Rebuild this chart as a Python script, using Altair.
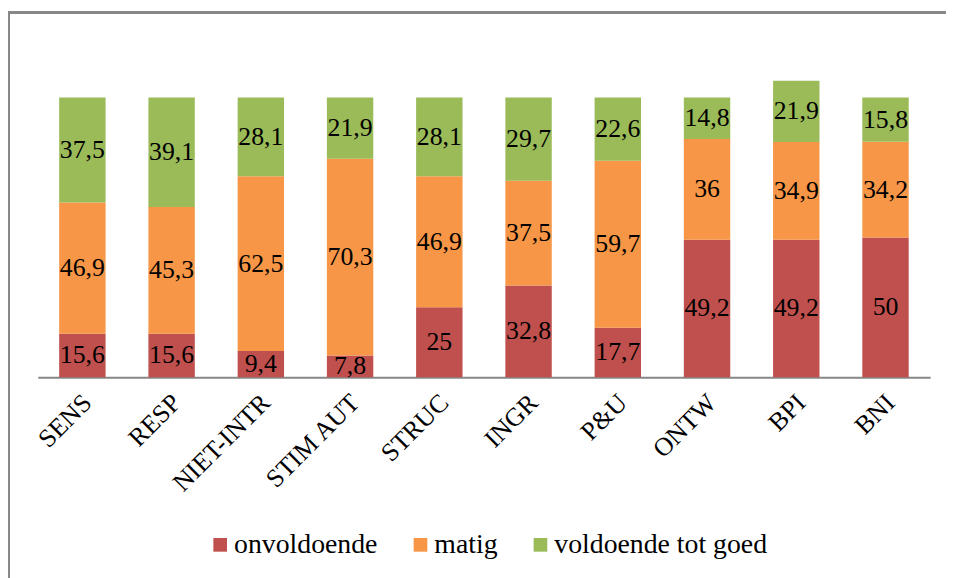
import altair as alt
import pandas as pd

categories = ["SENS", "RESP", "NIET-INTR", "STIM AUT", "STRUC", "INGR", "P&U", "ONTW", "BPI", "BNI"]
series = ["onvoldoende", "matig", "voldoende tot goed"]
onvoldoende = [15.6, 15.6, 9.4, 7.8, 25, 32.8, 17.7, 49.2, 49.2, 50]
matig = [46.9, 45.3, 62.5, 70.3, 46.9, 37.5, 59.7, 36, 34.9, 34.2]
voldoende = [37.5, 39.1, 28.1, 21.9, 28.1, 29.7, 22.6, 14.8, 21.9, 15.8]
colors = ["#C0504D", "#F79646", "#9BBB59"]

rows = []
for si, (name, vals) in enumerate(zip(series, [onvoldoende, matig, voldoende])):
    for c, v in zip(categories, vals):
        lab = ("%g" % v).replace(".", ",")
        rows.append({"cat": c, "serie": name, "idx": si, "value": v, "label": lab})
df = pd.DataFrame(rows)

FONT = "Liberation Serif"

x = alt.X("cat:N", sort=categories, title=None,
          scale=alt.Scale(paddingInner=0.48, paddingOuter=0.24),
          axis=alt.Axis(labelAngle=-45, labelFontSize=26, labelFont=FONT, labelColor="black",
                        ticks=False, domainColor="#878787", domainWidth=2, labelPadding=12,
                        labelOffset=-4))

bars = alt.Chart(df).mark_bar().encode(
    x=x,
    y=alt.Y("value:Q", stack="zero", scale=alt.Scale(domain=[0, 106], nice=False), axis=None),
    color=alt.Color("serie:N", scale=alt.Scale(domain=series, range=colors),
                    legend=alt.Legend(title=None, orient="none", direction="horizontal",
                                      legendX=170, legendY=454, symbolType="square",
                                      symbolSize=190, symbolStrokeWidth=0, labelFontSize=28,
                                      labelFont=FONT, labelColor="black", columnPadding=29,
                                      labelOffset=0, labelLimit=400)),
    order=alt.Order("idx:Q", sort="ascending"),
)

texts = alt.Chart(df).transform_stack(
    stack="value", groupby=["cat"], as_=["v0", "v1"], sort=[alt.SortField("idx", order="ascending")]
).transform_calculate(mid="(datum.v0 + datum.v1) / 2").mark_text(
    fontSize=26, font=FONT, color="black", baseline="middle"
).encode(
    x=alt.X("cat:N", sort=categories),
    y=alt.Y("mid:Q", scale=alt.Scale(domain=[0, 106], nice=False)),
    text="label:N",
)

frame_left = alt.Chart(df).mark_rule(color="#878787", strokeWidth=1.5).encode(
    x=alt.value(-29.5), y=alt.value(-69), y2=alt.value(700))
frame_top = alt.Chart(df).mark_rule(color="#878787", strokeWidth=1.5).encode(
    x=alt.value(-29.5), x2=alt.value(1000), y=alt.value(-69))

chart = alt.layer(bars, texts, frame_left, frame_top).properties(
    width=900, height=299,
    autosize=alt.AutoSizeParams(type="none"),
    padding={"left": 30, "top": 71, "right": 16, "bottom": 200},
).configure(font=FONT).configure_view(stroke=None)

chart.save("out.html", embed_options={"renderer": "svg", "actions": False})
